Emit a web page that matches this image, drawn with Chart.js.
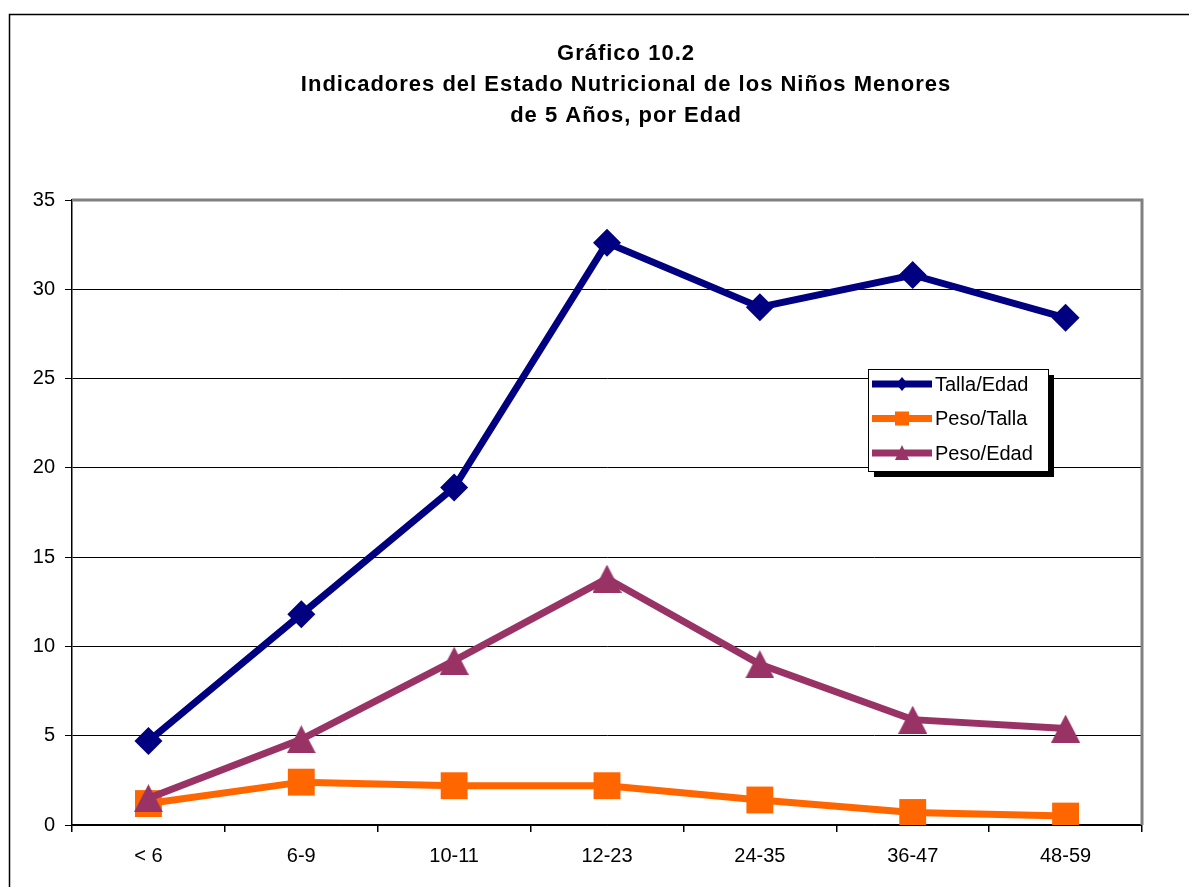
<!DOCTYPE html>
<html>
<head>
<meta charset="utf-8">
<script src="https://cdn.jsdelivr.net/npm/chart.js@4"></script>
<style>
  html, body { margin: 0; padding: 0; background: #fff; }
  #wrap { width: 1189px; height: 887px; }
</style>
</head>
<body>
<div id="wrap"><canvas id="myLineChart" width="1189" height="887"></canvas></div>
<script>
let categories = ['< 6', '6-9', '10-11', '12-23', '24-35', '36-47', '48-59'];
let tallaEdad = [4.7, 11.8, 18.9, 32.6, 29.0, 30.8, 28.4];
let pesoTalla = [1.2, 2.4, 2.2, 2.2, 1.4, 0.7, 0.5];
let pesoEdad = [1.5, 4.8, 9.2, 13.8, 9.0, 5.9, 5.4];
let titleLines = ['Gráfico 10.2', 'Indicadores del Estado Nutricional de los Niños Menores', 'de 5 Años, por Edad'];
let seriesNames = ['Talla/Edad', 'Peso/Talla', 'Peso/Edad'];
let colors = ['#000080', '#FF6600', '#993366'];

let fontName = '"Liberation Sans", Arial, sans-serif';

// flat excel-like triangle marker
function makeTriangle(w, h, color) {
    let cv = document.createElement('canvas');
    cv.width = w;
    cv.height = h;
    let c = cv.getContext('2d');
    c.fillStyle = color;
    c.beginPath();
    c.moveTo(w / 2, 0);
    c.lineTo(w, h);
    c.lineTo(0, h);
    c.closePath();
    c.fill();
    return cv;
}
let triMarker = makeTriangle(29, 28, colors[2]);
let markers = ['rectRot', 'rect', triMarker];
let radii = [14, 19, 14];

// frame, title, plot border and legend
let framePlugin = {
    id: 'framePlugin',
    beforeDraw(chart) {
        let c = chart.ctx;
        c.save();
        c.fillStyle = '#fff';
        c.fillRect(0, 0, chart.width, chart.height);
        c.strokeStyle = '#000';
        c.lineWidth = 1.5;
        c.strokeRect(9.5, 14.5, chart.width + 20, chart.height + 20);
        c.fillStyle = '#000';
        c.font = 'bold 22px ' + fontName;
        c.letterSpacing = '1px';
        c.textAlign = 'center';
        c.textBaseline = 'middle';
        titleLines.forEach((t, i) => c.fillText(t, 626, 54 + i * 31));
        c.restore();
    },
    beforeDatasetsDraw(chart) {
        let a = chart.chartArea;
        let c = chart.ctx;
        c.save();
        c.strokeStyle = '#808080';
        c.lineWidth = 3;
        c.beginPath();
        c.moveTo(a.left, a.top);
        c.lineTo(a.right, a.top);
        c.lineTo(a.right, a.bottom);
        c.stroke();
        c.restore();
    },
    afterDatasetsDraw(chart) {
        let c = chart.ctx;
        c.save();
        let x = 868, y = 369, w = 180, h = 102;
        c.fillStyle = '#000';
        c.fillRect(x + 6, y + 6, w, h);
        c.fillStyle = '#fff';
        c.fillRect(x, y, w, h);
        c.strokeStyle = '#000';
        c.lineWidth = 1;
        c.strokeRect(x + 0.5, y + 0.5, w, h);
        c.font = '20px ' + fontName;
        c.textBaseline = 'middle';
        seriesNames.forEach((name, i) => {
            let ly = y + 15 + i * 34.5;
            let mx = x + 34;
            c.strokeStyle = colors[i];
            c.lineWidth = 7;
            c.beginPath();
            c.moveTo(x + 4, ly);
            c.lineTo(x + 64, ly);
            c.stroke();
            c.fillStyle = colors[i];
            c.beginPath();
            if (i === 0) {
                c.moveTo(mx, ly - 7); c.lineTo(mx + 6, ly); c.lineTo(mx, ly + 7); c.lineTo(mx - 6, ly);
            } else if (i === 1) {
                c.rect(mx - 7, ly - 7, 14, 14);
            } else {
                c.moveTo(mx, ly - 8); c.lineTo(mx + 7, ly + 7); c.lineTo(mx - 7, ly + 7);
            }
            c.closePath();
            c.fill();
            c.fillStyle = '#000';
            c.fillText(name, x + 67, ly + 1);
        });
        c.restore();
    }
};

let ctx = document.getElementById('myLineChart').getContext('2d');
let myLineChart = new Chart(ctx, {
    type: 'line',
    data: {
        labels: categories,
        datasets: [tallaEdad, pesoTalla, pesoEdad].map((d, i) => ({
            label: seriesNames[i],
            data: d,
            borderColor: colors[i],
            backgroundColor: colors[i],
            borderWidth: 7,
            pointStyle: markers[i],
            pointRadius: radii[i],
            pointBorderWidth: 0,
            tension: 0,
        })).reverse()
    },
    options: {
        responsive: false,
        animation: false,
        layout: { padding: { top: 200, right: 47, left: 0, bottom: 0 } },
        plugins: {
            legend: { display: false },
            title: { display: false },
            tooltip: { enabled: false }
        },
        scales: {
            x: {
                offset: true,
                grid: {
                    offset: true,
                    drawOnChartArea: false,
                    drawTicks: true,
                    tickLength: 7,
                    color: '#000',
                    lineWidth: 1.5
                },
                border: { color: '#000', width: 1.5 },
                ticks: { color: '#000', font: { family: fontName, size: 20 }, padding: 12 },
                afterFit(scale) { scale.height = 62; }
            },
            y: {
                min: 0,
                max: 35,
                ticks: { stepSize: 5, color: '#000', font: { family: fontName, size: 20 }, padding: 10 },
                grid: { color: '#000', lineWidth: 1, tickLength: 7 },
                border: { color: '#000', width: 1.5 },
                afterFit(scale) { scale.width = 72; }
            }
        }
    },
    plugins: [framePlugin]
});
</script>
</body>
</html>
